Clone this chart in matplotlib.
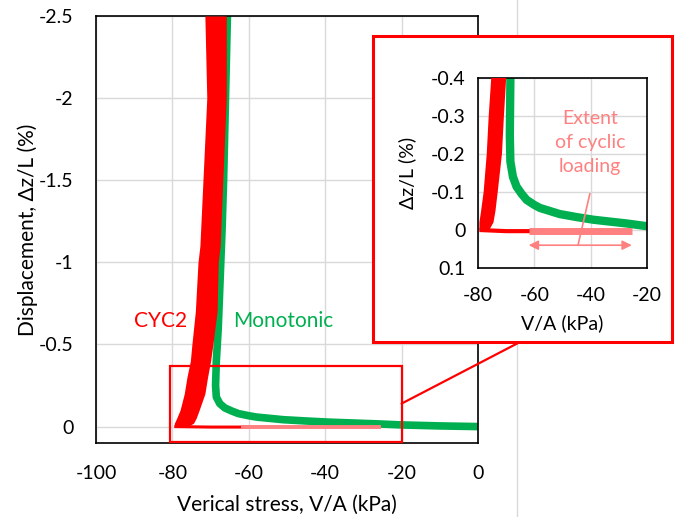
import matplotlib
matplotlib.use("Agg")
import matplotlib.pyplot as plt
from matplotlib.patches import Rectangle, ConnectionPatch
from matplotlib.lines import Line2D

plt.rcParams['font.family'] = ['Lato', 'DejaVu Sans']
plt.rcParams['axes.unicode_minus'] = False

# monotonic test (green)
mono_x = [0, -10, -20, -27, -33, -39, -45, -51, -58, -60, -62.7, -64.5, -66.3, -67.6,
          -68.5, -68.7, -68.5, -68, -67.5, -67, -66.6, -66.3, -66, -65.6]
mono_y = [0, -0.004, -0.01, -0.017, -0.022, -0.027, -0.034, -0.042, -0.058, -0.066,
          -0.079, -0.095, -0.114, -0.14, -0.18, -0.25, -0.4, -0.6, -0.9, -1.2, -1.5,
          -1.8, -2.1, -2.5]

# CYC2 column after cyclic loading (red band, left / right edges)
cyc_y = [0.0, -0.02, -0.05, -0.1, -0.2, -0.3, -0.4, -0.5, -0.7, -1.0, -1.1, -1.5, -2.0, -2.5]
cyc_left = [-79.5, -79.5, -78.9, -78, -76.9, -76.2, -75.3, -74.9, -74, -73.3, -72.8, -72, -71, -71.5]
cyc_right = [-76, -74.5, -73.8, -73, -71.5, -70.8, -70, -69.4, -68.3, -68, -67.5, -66.8, -65.9, -65.9]

# CYC2 loading up to the column, and the cyclic part (pink)
base_x = [-60, -70, -79.5]
base_y = [0.003, 0.003, 0.0]
cyc_pink_x = [-25.5, -40, -62]
cyc_pink_y = [0.002, 0.002, 0.002]

red = '#FF0000'
green = '#00B050'
pink = '#FF8080'
grid_c = '#D9D9D9'

fig = plt.figure(figsize=(6.76, 5.17), dpi=100)
W, H = 676, 517


def fbox(l, t, r, b):
    return [l / W, 1 - b / H, (r - l) / W, (b - t) / H]


def draw(ax, lw_g, lw_b, lw_p):
    ax.plot(mono_x, mono_y, color=green, lw=lw_g, solid_capstyle='butt', zorder=2)
    ax.fill_betweenx(cyc_y, cyc_left, cyc_right, color=red, lw=0, zorder=3)
    ax.plot(base_x, base_y, color=red, lw=lw_b, solid_capstyle='butt', zorder=3)
    ax.plot(cyc_pink_x, cyc_pink_y, color=pink, lw=lw_p, solid_capstyle='butt', zorder=4)


def style(ax):
    ax.grid(True, color=grid_c, lw=1)
    ax.set_axisbelow(True)
    ax.tick_params(length=0)
    for s in ax.spines.values():
        s.set_color('black')
        s.set_linewidth(1.2)


# main plot
ax = fig.add_axes(fbox(96, 16, 478, 443))
draw(ax, 5.5, 2.2, 2.8)
ax.set_xlim(-100, 0)
ax.set_ylim(0.1, -2.5)
ax.set_xticks([-100, -80, -60, -40, -20, 0])
ax.set_yticks([-2.5, -2, -1.5, -1, -0.5, 0])
ax.set_yticklabels(['-2.5', '-2', '-1.5', '-1', '-0.5', '0'])
style(ax)
ax.tick_params(labelsize=14, pad=16)
ax.set_xlabel('Verical stress, V/A (kPa)', fontsize=15, va='center')
ax.set_ylabel('Displacement, Δz/L (%)', fontsize=15, va='center')
ax.xaxis.set_label_coords(0.5, -0.145)
ax.yaxis.set_label_coords(-0.18, 0.5)
ax.text(-83.2, -0.64, 'CYC2', color=red, fontsize=15, ha='center', va='center')
ax.text(-51, -0.64, 'Monotonic', color=green, fontsize=15, ha='center', va='center')
ax.add_patch(Rectangle((-80.5, -0.37), 60.5, 0.465, fill=False, ec=red, lw=1.6,
                       clip_on=False, zorder=6))

# page edge line
fig.add_artist(Line2D([516.5 / W] * 2, [0, 1], transform=fig.transFigure,
                      color=grid_c, lw=1, zorder=0.5))

# inset frame
l, b, w, h = fbox(373, 36, 672, 342)
fig.add_artist(Rectangle((l, b), w, h, transform=fig.transFigure, fc='white',
                         ec=red, lw=2.2, zorder=1))
fig.add_artist(ConnectionPatch(xyA=(-20, -0.14), coordsA=ax.transData,
                               xyB=(520 / W, 1 - 342 / H), coordsB=fig.transFigure,
                               color=red, lw=1.6, zorder=1.5))

# inset plot
ax2 = fig.add_axes(fbox(478, 78, 647, 268))
ax2.set_zorder(3)
draw(ax2, 6, 3, 5)
ax2.set_xlim(-80, -20)
ax2.set_ylim(0.1, -0.4)
ax2.set_xticks([-80, -60, -40, -20])
ax2.set_yticks([-0.4, -0.3, -0.2, -0.1, 0, 0.1])
ax2.set_yticklabels(['-0.4', '-0.3', '-0.2', '-0.1', '0', '0.1'])
style(ax2)
ax2.tick_params(labelsize=14, pad=9)
ax2.tick_params(axis='x', pad=14)
ax2.set_xlabel('V/A (kPa)', fontsize=14, va='center')
ax2.set_ylabel('Δz/L (%)', fontsize=14, va='center')
ax2.xaxis.set_label_coords(0.5, -0.29)
ax2.yaxis.set_label_coords(-0.42, 0.5)
ax2.text(-40.3, -0.229, 'Extent\nof cyclic\nloading', color=pink, fontsize=14,
         ha='center', va='center', linespacing=1.5, zorder=6)
ax2.annotate('', xy=(-62, 0.04), xytext=(-25.4, 0.04),
             arrowprops=dict(arrowstyle='<|-|>', color=pink, lw=1.2,
                             mutation_scale=14, shrinkA=0, shrinkB=0), zorder=6)
ax2.plot([-40.3, -44.5], [-0.095, 0.04], color=pink, lw=1.2, zorder=6)

fig.savefig('out.png', dpi=100, facecolor='white')
